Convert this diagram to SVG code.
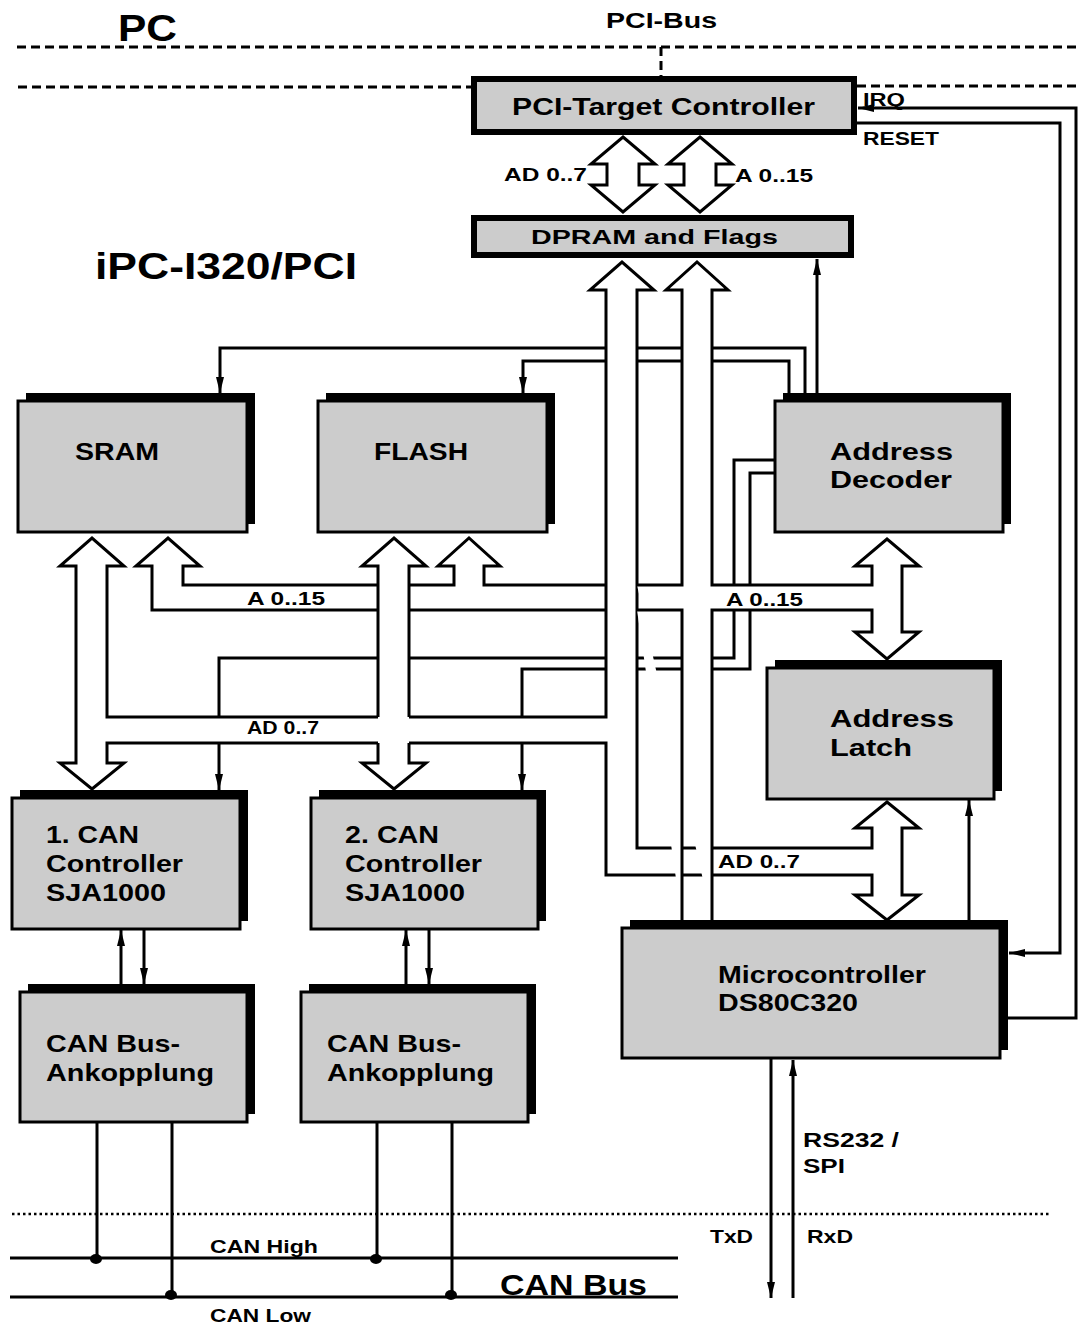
<svg xmlns="http://www.w3.org/2000/svg" width="1080" height="1326" viewBox="0 0 1080 1326">
<style>
.t{font-family:"Liberation Sans",Arial,sans-serif;font-weight:bold;fill:#000}
.sh{fill:#000}
.bx{fill:#cccccc;stroke:#000;stroke-width:3}
.bx6{fill:#cccccc;stroke:#000;stroke-width:6}
.ln{fill:none;stroke:#000;stroke-width:3}
.hd{fill:#fff;stroke:#000;stroke-width:3}
.dash{fill:none;stroke:#000;stroke-width:3;stroke-dasharray:9 5}
.dot{fill:none;stroke:#000;stroke-width:2.5;stroke-dasharray:2.5 3}
</style>
<defs>
<marker id="ah" markerUnits="userSpaceOnUse" markerWidth="16" markerHeight="8" refX="16" refY="4" orient="auto">
<path d="M0,0 L16,4 L0,8 z" fill="#000"/>
</marker>
</defs>
<rect x="0" y="0" width="1080" height="1326" fill="#fff"/>

<g id="boundaries">
<path class="dash" d="M17,47 H1080 M18,87 H471 M857,86 H1080 M661,47 V76"/>
<path class="dot" d="M12,1214 H1050"/>
</g>

<g id="nodes">
<g id="pci-target"><rect class="bx6" x="474" y="79" width="380" height="53"/>
<text class="t" x="512" y="115" font-size="24" textLength="303" lengthAdjust="spacingAndGlyphs">PCI-Target Controller</text></g>
<g id="dpram"><rect class="bx6" x="474" y="218" width="377" height="37"/>
<text class="t" x="531" y="244" font-size="21" textLength="247" lengthAdjust="spacingAndGlyphs">DPRAM and Flags</text></g>
<g id="sram"><rect class="sh" x="26" y="393" width="229" height="131"/><rect class="bx" x="18" y="401" width="229" height="131"/>
<text class="t" x="75" y="460" font-size="24" textLength="84" lengthAdjust="spacingAndGlyphs">SRAM</text></g>
<g id="flash"><rect class="sh" x="326" y="393" width="229" height="131"/><rect class="bx" x="318" y="401" width="229" height="131"/>
<text class="t" x="374" y="460" font-size="24" textLength="94" lengthAdjust="spacingAndGlyphs">FLASH</text></g>
<g id="address-decoder"><rect class="sh" x="783" y="393" width="228" height="131"/><rect class="bx" x="775" y="401" width="228" height="131"/>
<text class="t" x="830" y="460" font-size="24" textLength="123" lengthAdjust="spacingAndGlyphs">Address</text>
<text class="t" x="830" y="488" font-size="24" textLength="122" lengthAdjust="spacingAndGlyphs">Decoder</text></g>
<g id="address-latch"><rect class="sh" x="775" y="660" width="227" height="131"/><rect class="bx" x="767" y="668" width="227" height="131"/>
<text class="t" x="830" y="727" font-size="24" textLength="124" lengthAdjust="spacingAndGlyphs">Address</text>
<text class="t" x="830" y="756" font-size="24" textLength="82" lengthAdjust="spacingAndGlyphs">Latch</text></g>
<g id="can1"><rect class="sh" x="20" y="790" width="228" height="131"/><rect class="bx" x="12" y="798" width="228" height="131"/>
<text class="t" x="46" y="843" font-size="24" textLength="93" lengthAdjust="spacingAndGlyphs">1. CAN</text>
<text class="t" x="46" y="872" font-size="24" textLength="137" lengthAdjust="spacingAndGlyphs">Controller</text>
<text class="t" x="46" y="901" font-size="24" textLength="120" lengthAdjust="spacingAndGlyphs">SJA1000</text></g>
<g id="can2"><rect class="sh" x="319" y="790" width="227" height="131"/><rect class="bx" x="311" y="798" width="227" height="131"/>
<text class="t" x="345" y="843" font-size="24" textLength="94" lengthAdjust="spacingAndGlyphs">2. CAN</text>
<text class="t" x="345" y="872" font-size="24" textLength="137" lengthAdjust="spacingAndGlyphs">Controller</text>
<text class="t" x="345" y="901" font-size="24" textLength="120" lengthAdjust="spacingAndGlyphs">SJA1000</text></g>
<g id="ankopplung1"><rect class="sh" x="28" y="984" width="227" height="130"/><rect class="bx" x="20" y="992" width="227" height="130"/>
<text class="t" x="46" y="1052" font-size="24" textLength="134" lengthAdjust="spacingAndGlyphs">CAN Bus-</text>
<text class="t" x="46" y="1081" font-size="24" textLength="168" lengthAdjust="spacingAndGlyphs">Ankopplung</text></g>
<g id="ankopplung2"><rect class="sh" x="309" y="984" width="227" height="130"/><rect class="bx" x="301" y="992" width="227" height="130"/>
<text class="t" x="327" y="1052" font-size="24" textLength="134" lengthAdjust="spacingAndGlyphs">CAN Bus-</text>
<text class="t" x="327" y="1081" font-size="24" textLength="167" lengthAdjust="spacingAndGlyphs">Ankopplung</text></g>
<g id="microcontroller"><rect class="sh" x="630" y="920" width="378" height="130"/><rect class="bx" x="622" y="928" width="378" height="130"/>
<text class="t" x="718" y="983" font-size="24" textLength="208" lengthAdjust="spacingAndGlyphs">Microcontroller</text>
<text class="t" x="718" y="1011" font-size="24" textLength="140" lengthAdjust="spacingAndGlyphs">DS80C320</text></g>
</g>

<g id="connectors">
<!-- PCI to DPRAM buses -->
<path class="hd" d="M623,137 L655,164 H639 V185 H655 L623,212 L591,185 H607 V164 H591 Z"/>
<path class="hd" d="M700,137 L732,164 H716 V185 H732 L700,212 L668,185 H684 V164 H668 Z"/>
<!-- thin select lines -->
<path class="ln" d="M805,393 V348 H712 M682,348 H637"/>
<path class="ln" marker-end="url(#ah)" d="M606,348 H220 V393"/>
<path class="ln" d="M789,393 V361 H712 M682,361 H637"/>
<path class="ln" marker-end="url(#ah)" d="M606,361 H523 V393"/>
<path class="ln" marker-end="url(#ah)" d="M817,393 V259"/>
<path class="ln" d="M775,460 H734 V585 M734,610 V658 H712 M682,658 H637 M606,658 H409 M378,658 H219 V717"/>
<path class="ln" marker-end="url(#ah)" d="M219,743 V790"/>
<path class="ln" d="M775,473 H750 V585 M750,610 V669 H712 M682,669 H637 M606,669 H522 V717"/>
<path class="ln" marker-end="url(#ah)" d="M522,743 V790"/>
<path class="ln" marker-end="url(#ah)" d="M969,920 V800"/>
<!-- IRQ / RESET -->
<path class="ln" marker-end="url(#ah)" d="M1008,1018 H1076 V108 H858"/>
<path class="ln" marker-end="url(#ah)" d="M857,123 H1060 V953 H1009"/>
<!-- serial -->
<path class="ln" marker-end="url(#ah)" d="M771,1059 V1298"/>
<path class="ln" marker-end="url(#ah)" d="M793,1298 V1060"/>
<!-- CAN controller to bus coupling -->
<path class="ln" marker-end="url(#ah)" d="M121,984 V930"/>
<path class="ln" marker-end="url(#ah)" d="M144,930 V984"/>
<path class="ln" marker-end="url(#ah)" d="M406,984 V930"/>
<path class="ln" marker-end="url(#ah)" d="M429,930 V984"/>
<!-- CAN bus -->
<path class="ln" d="M10,1258 H678 M10,1297 H678 M97,1122 V1258 M172,1122 V1297 M377,1122 V1258 M452,1122 V1297"/>
<ellipse cx="96" cy="1259" rx="6" ry="5"/>
<ellipse cx="376" cy="1259" rx="6" ry="5"/>
<ellipse cx="171" cy="1295" rx="6" ry="5"/>
<ellipse cx="451" cy="1295" rx="6" ry="5"/>
<!-- AD bus (shaft 1) -->
<path class="hd" d="M409,717 H606 V290 H590 L622,262 L654,290 H637 V848 H872 V828 H855 L887,802 L919,828 H902 V895 H919 L887,920 L855,895 H872 V875 H606 V743 H409" fill="none"/>
<!-- A bus (shaft 2) -->
<path class="hd" fill="none" d="M637,585 H682 V290 H666 L697,262 L728,290 H712 V585 H872 V566 H855 L887,539 L919,566 H902 V632 H919 L887,659 L855,632 H872 V610 H712 V920 M682,920 V610 H637"/>
<!-- A bus left part -->
<path class="hd" fill="none" d="M606,585 H484 V566 H500 L469,538 L438,566 H454 V585 H409 M378,585 H183 V566 H200 L168,538 L136,566 H152 V610 H378 M409,610 H606"/>
<!-- SRAM AD arrow and AD pipe -->
<path class="hd" fill="none" d="M378,717 H107 V566 H124 L92,538 L60,566 H76 V763 H60 L92,789 L124,763 H107 V743 H378"/>
<!-- FLASH AD arrow -->
<path class="hd" fill="none" d="M378,717 V566 H362 L394,538 L426,566 H409 V717 M378,743 V763 H362 L394,789 L426,763 H409 V743"/>
</g>

<g id="labels">
<text class="t" x="118" y="41" font-size="36" textLength="59" lengthAdjust="spacingAndGlyphs">PC</text>
<text class="t" x="606" y="28" font-size="22" textLength="111" lengthAdjust="spacingAndGlyphs">PCI-Bus</text>
<text class="t" x="95" y="279" font-size="36" textLength="262" lengthAdjust="spacingAndGlyphs">iPC-I320/PCI</text>
<text class="t" x="863" y="106" font-size="19" textLength="42" lengthAdjust="spacingAndGlyphs">IRQ</text>
<text class="t" x="863" y="145" font-size="19" textLength="76" lengthAdjust="spacingAndGlyphs">RESET</text>
<text class="t" x="504" y="181" font-size="19" textLength="83" lengthAdjust="spacingAndGlyphs">AD 0..7</text>
<text class="t" x="735" y="182" font-size="19" textLength="78" lengthAdjust="spacingAndGlyphs">A 0..15</text>
<text class="t" x="247" y="605" font-size="18" textLength="78" lengthAdjust="spacingAndGlyphs">A 0..15</text>
<text class="t" x="726" y="606" font-size="18" textLength="77" lengthAdjust="spacingAndGlyphs">A 0..15</text>
<text class="t" x="247" y="734" font-size="18" textLength="72" lengthAdjust="spacingAndGlyphs">AD 0..7</text>
<text class="t" x="718" y="868" font-size="19" textLength="82" lengthAdjust="spacingAndGlyphs">AD 0..7</text>
<text class="t" x="803" y="1147" font-size="21" textLength="96" lengthAdjust="spacingAndGlyphs">RS232 /</text>
<text class="t" x="803" y="1173" font-size="21" textLength="42" lengthAdjust="spacingAndGlyphs">SPI</text>
<text class="t" x="710" y="1243" font-size="19" textLength="43" lengthAdjust="spacingAndGlyphs">TxD</text>
<text class="t" x="807" y="1243" font-size="19" textLength="46" lengthAdjust="spacingAndGlyphs">RxD</text>
<text class="t" x="210" y="1253" font-size="19" textLength="108" lengthAdjust="spacingAndGlyphs">CAN High</text>
<text class="t" x="210" y="1322" font-size="19" textLength="101" lengthAdjust="spacingAndGlyphs">CAN Low</text>
<text class="t" x="500" y="1295" font-size="30" textLength="147" lengthAdjust="spacingAndGlyphs">CAN Bus</text>
</g>
</svg>
